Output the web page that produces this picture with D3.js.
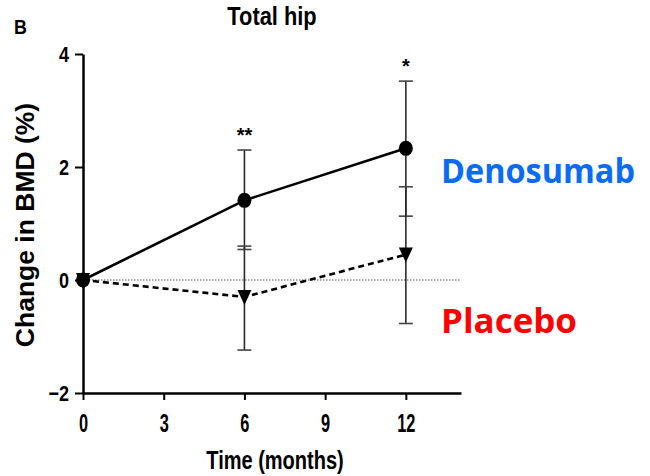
<!DOCTYPE html>
<html>
<head>
<meta charset="utf-8">
<script src="https://cdn.jsdelivr.net/npm/d3@7"></script>
<style>
  html, body { margin: 0; padding: 0; background: #fff; }
  svg { display: block; }
</style>
</head>
<body>
<svg id="chart" width="650" height="476"></svg>
<script>
// ---- data ----
const months = [0, 6, 12];
const denosumabMean  = [0, 1.41, 2.33];
const denosumabUpper = [0, 2.30, 3.52];
const denosumabLower = [0, 0.54, 1.13];
const placeboMean  = [0, -0.30, 0.45];
const placeboUpper = [0, 0.60, 1.65];
const placeboLower = [0, -1.24, -0.77];
const xTicks = [0, 3, 6, 9, 12];
const yTicks = [-2, 0, 2, 4];
const significance = [{ month: 6, label: "**", top: 2.30 }, { month: 12, label: "*", top: 3.52 }];

const sans = "'Liberation Sans', Arial, sans-serif";

const svg = d3.select("#chart");
const x = d3.scaleLinear().domain([0, 14.05]).range([83, 461]);
const y = d3.scaleLinear().domain([-2, 4]).range([393, 54]);

function condensedText(px, py, size, sq, anchor, str) {
  return svg.append("text")
    .attr("transform", `translate(${px},${py}) scale(${sq},1)`)
    .attr("text-anchor", anchor)
    .style("font-family", sans).style("font-weight", "bold").style("font-size", size + "px")
    .text(str);
}

// zero reference line
svg.append("line")
  .attr("x1", x(0)).attr("x2", x(14.05))
  .attr("y1", y(0)).attr("y2", y(0))
  .attr("stroke", "#555").attr("stroke-width", 1)
  .attr("stroke-dasharray", "1.5,1.5");

// axes
const yAxis = svg.append("g").attr("transform", `translate(${x(0)},0)`)
  .call(d3.axisLeft(y).tickValues(yTicks).tickSize(8).tickSizeOuter(0).tickPadding(6).tickFormat(d3.format("d")));
const xAxis = svg.append("g").attr("transform", `translate(0,${y(-2)})`)
  .call(d3.axisBottom(x).tickValues(xTicks).tickSize(7).tickSizeOuter(0));
[yAxis, xAxis].forEach(g => {
  g.select(".domain").attr("stroke", "#000").attr("stroke-width", 2.5);
  g.selectAll(".tick line").attr("stroke", "#000").attr("stroke-width", 2);
  g.selectAll(".tick text").attr("fill", "#000")
    .style("font-family", sans).style("font-weight", "bold");
});
yAxis.selectAll(".tick text").style("font-size", "22px").each(function () {
  const t = d3.select(this);
  t.attr("x", 0).attr("dy", "0.36em").attr("transform", `translate(-14,0) scale(0.82,1)`);
});
xAxis.selectAll(".tick text").style("font-size", "26px").each(function () {
  const t = d3.select(this);
  t.attr("y", 0).attr("dy", 0).attr("transform", `translate(0,39) scale(0.63,1)`);
});

// error bars
function errorBars(upper, lower, cls) {
  const g = svg.append("g").attr("class", cls);
  months.forEach((m, i) => {
    if (upper[i] === lower[i]) return;
    g.append("line").attr("x1", x(m)).attr("x2", x(m))
      .attr("y1", y(upper[i])).attr("y2", y(lower[i]))
      .attr("stroke", "#2a2a2a").attr("stroke-width", 1.6);
    [upper[i], lower[i]].forEach(v => {
      g.append("line").attr("x1", x(m) - 7).attr("x2", x(m) + 7)
        .attr("y1", y(v)).attr("y2", y(v))
        .attr("stroke", "#444").attr("stroke-width", 1.6);
    });
  });
}
errorBars(denosumabUpper, denosumabLower, "deno-err");
errorBars(placeboUpper, placeboLower, "plac-err");

const line = d3.line().x((d, i) => x(months[i])).y(d => y(d));

svg.append("path").datum(placeboMean).attr("d", line)
  .attr("fill", "none").attr("stroke", "#000").attr("stroke-width", 2.6)
  .attr("stroke-dasharray", "6,4");
svg.append("path").datum(denosumabMean).attr("d", line)
  .attr("fill", "none").attr("stroke", "#000").attr("stroke-width", 2.6);

// markers
svg.selectAll(".tri").data(placeboMean).enter().append("path")
  .attr("class", "tri")
  .attr("d", "M-7,-7 L7,-7 L0,8 Z")
  .attr("transform", (d, i) => `translate(${x(months[i])},${y(d)})`)
  .attr("fill", "#000");
svg.selectAll(".dot").data(denosumabMean).enter().append("ellipse")
  .attr("class", "dot")
  .attr("cx", (d, i) => x(months[i])).attr("cy", d => y(d))
  .attr("rx", 7).attr("ry", 7.5).attr("fill", "#000");

// significance stars
svg.selectAll(".sig").data(significance).enter().append("text")
  .attr("x", d => x(d.month)).attr("y", d => y(d.top) - 8)
  .attr("text-anchor", "middle")
  .style("font-family", sans).style("font-size", "20px").style("font-weight", "bold")
  .text(d => d.label);

// titles & labels
condensedText(272, 25, 26, 0.84, "middle", "Total hip");
condensedText(14, 34, 21, 0.85, "start", "B");
condensedText(275, 469, 26, 0.77, "middle", "Time (months)");
svg.append("text").attr("transform", "translate(34,225) rotate(-90)")
  .attr("text-anchor", "middle")
  .style("font-family", sans).style("font-weight", "bold").style("font-size", "26.5px")
  .text("Change in BMD (%)");

// series labels
svg.append("text").attr("x", 441).attr("y", 183)
  .attr("textLength", 194).attr("lengthAdjust", "spacingAndGlyphs")
  .style("font-family", "'Open Sans', Lato, sans-serif").style("font-weight", "bold").style("font-size", "34px")
  .attr("fill", "#0A6CF5").text("Denosumab");
svg.append("text").attr("x", 441).attr("y", 333)
  .attr("textLength", 136).attr("lengthAdjust", "spacingAndGlyphs")
  .style("font-family", "'Open Sans', Lato, sans-serif").style("font-weight", "bold").style("font-size", "34px")
  .attr("fill", "#FF0000").text("Placebo");
</script>
</body>
</html>
